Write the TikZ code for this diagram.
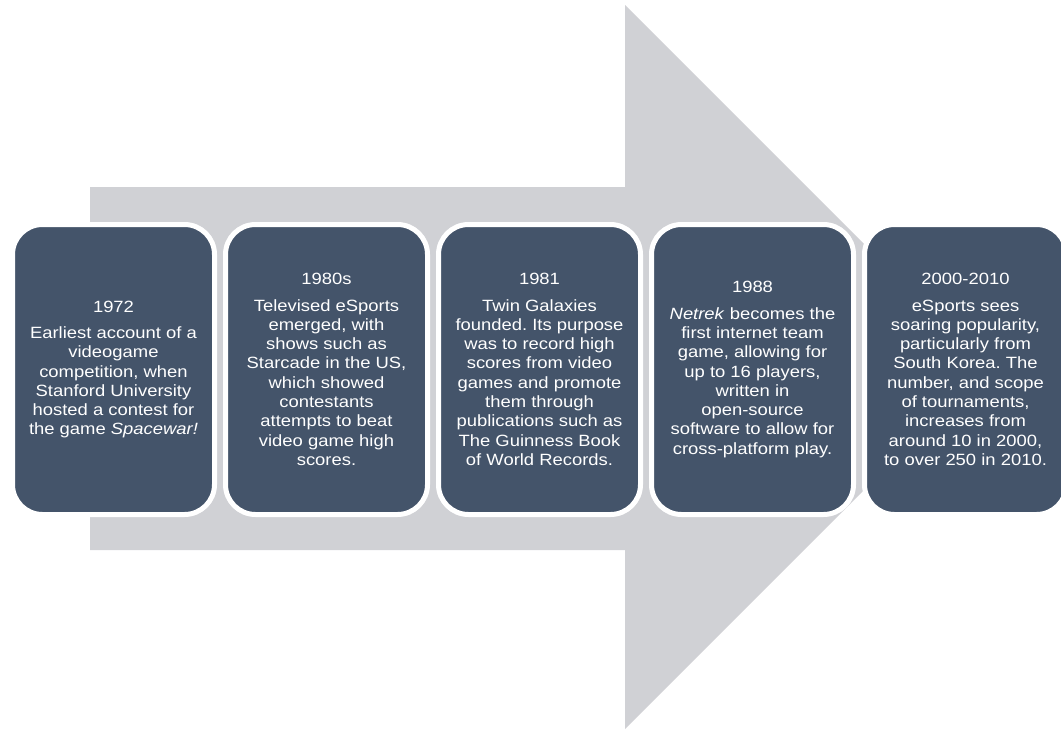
\documentclass[tikz,border=0pt]{standalone}
\usepackage{fontspec}
\setmainfont[FakeStretch=1.13]{Liberation Sans}
\definecolor{arrowgray}{RGB}{208,209,213}
\definecolor{boxblue}{RGB}{68,84,106}
\frenchspacing
\begin{document}
\begin{tikzpicture}[x=1pt,y=-1pt,
  evbox/.style={draw=white, line width=5pt, fill=boxblue, rounded corners=30pt,
    minimum width=202pt, minimum height=290pt, text=white, align=center,
    font=\fontsize{16.3}{19.3}\selectfont\frenchspacing, inner sep=0pt}]
\useasboundingbox (0,0) rectangle (1061,729);
\fill[arrowgray] (90,187) -- (625,187) -- (625,5) -- (987,367) -- (625,729)
  -- (625,550) -- (90,550) -- cycle;
\node[evbox] (e1) at (113.5,369.5) {1972\\[7pt]Earliest account of a\\videogame\\competition, when\\Stanford University\\hosted a contest for\\the game \textit{Spacewar!}};
\node[evbox] (e2) at (326.5,369.5) {1980s\\[7pt]Televised eSports\\emerged, with\\shows such as\\Starcade in the US,\\which showed\\contestants\\attempts to beat\\video game high\\scores.};
\node[evbox] (e3) at (539.5,369.5) {1981\\[7pt]Twin Galaxies\\founded. Its purpose\\was to record high\\scores from video\\games and promote\\them through\\publications such as\\The Guinness Book\\of World Records.};
\node[evbox] (e4) at (752.5,369.5) {1988\\[7pt]\textit{Netrek} becomes the\\first internet team\\game, allowing for\\up to 16 players,\\written in\\open-source\\software to allow for\\cross-platform play.};
\node[evbox] (e5) at (965.5,369.5) {2000-2010\\[7pt]eSports sees\\soaring popularity,\\particularly from\\South Korea. The\\number, and scope\\of tournaments,\\increases from\\around 10 in 2000,\\to over 250 in 2010.};
\end{tikzpicture}
\end{document}
